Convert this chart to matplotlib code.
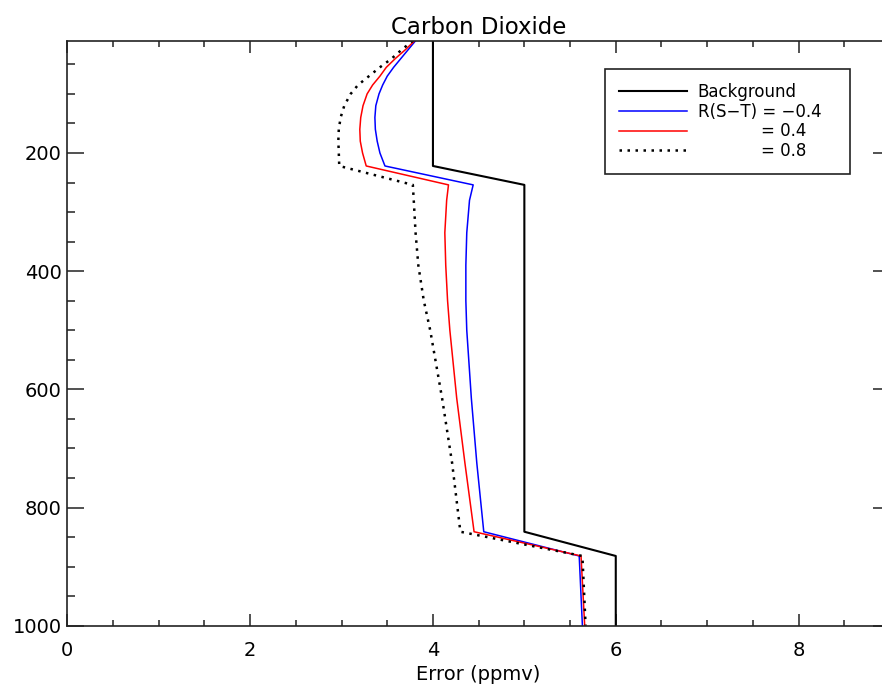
import matplotlib
matplotlib.use("Agg")
import matplotlib.pyplot as plt
from matplotlib.ticker import MultipleLocator, FixedLocator

# ---- data ----
bg_pressure = [10, 222, 254, 841, 882, 1000]
bg_error = [4.0, 4.0, 5.0, 5.0, 6.0, 6.0]

pressure = [10, 25, 40, 55, 70, 85, 100, 120, 140, 160, 180, 200, 222,
            254, 280, 335, 390, 450, 500, 615, 725, 841, 882, 1000]
err_m04 = [3.81, 3.73, 3.65, 3.57, 3.50, 3.45, 3.41, 3.375, 3.365, 3.37, 3.39, 3.42, 3.475,
           4.44, 4.40, 4.37, 4.36, 4.36, 4.37, 4.42, 4.48, 4.556, 5.60, 5.635]
err_p04 = [3.80, 3.70, 3.59, 3.49, 3.42, 3.34, 3.28, 3.235, 3.21, 3.20, 3.205, 3.23, 3.27,
           4.17, 4.15, 4.13, 4.14, 4.16, 4.185, 4.26, 4.35, 4.45, 5.62, 5.66]
err_p08 = [3.78, 3.66, 3.55, 3.42, 3.30, 3.18, 3.10, 3.03, 2.99, 2.97, 2.965, 2.97, 2.975,
           3.78, 3.79, 3.81, 3.84, 3.90, 3.97, 4.10, 4.21, 4.30, 5.635, 5.67]

labels = ["Background", "R(S\u2212T) = \u22120.4", "            = 0.4", "            = 0.8"]
title = "Carbon Dioxide"
xlabel = "Error (ppmv)"
xticks = [0, 2, 4, 6, 8]
yticks = [200, 400, 600, 800, 1000]

plt.rcParams['font.family'] = ['DejaVu Sans']

fig = plt.figure(figsize=(8.82, 6.90), dpi=100)
fig.patch.set_facecolor('white')
W, H = 882, 690
x0, x1 = 67.3, 890.0
y0, y1 = 40.7, 625.7
ax = fig.add_axes([x0 / W, 1 - y1 / H, (x1 - x0) / W, (y1 - y0) / H])

ax.plot(bg_error, bg_pressure, color='black', lw=1.5, label=labels[0])
ax.plot(err_m04, pressure, color='#0000ff', lw=1.1, label=labels[1])
ax.plot(err_p04, pressure, color='#ff0000', lw=1.1, label=labels[2])
ax.plot(err_p08, pressure, color='black', lw=1.8, linestyle=(0, (1, 2.2)), label=labels[3])

ax.set_xlim(0, 9)
ax.set_ylim(1000, 10)

ax.xaxis.set_major_locator(FixedLocator(xticks))
ax.xaxis.set_minor_locator(MultipleLocator(0.5))
ax.yaxis.set_major_locator(FixedLocator(yticks))
ax.yaxis.set_minor_locator(MultipleLocator(50))

ax.tick_params(axis='both', which='both', direction='in', top=True, right=True,
               color='#222222', width=1.1)
ax.tick_params(axis='x', which='major', length=8.3, pad=11, labelsize=14)
ax.tick_params(axis='x', which='minor', length=4)
ax.tick_params(axis='y', which='major', length=12.2, pad=4, labelsize=14)
ax.tick_params(axis='y', which='minor', length=5.8)

for s in ax.spines.values():
    s.set_color('#222222')
    s.set_linewidth(1.2)

ax.set_title(title, fontsize=16.5, pad=5)
ax.set_xlabel(xlabel, fontsize=14, labelpad=2)
ax.xaxis.set_label_coords((478.5 - x0) / (x1 - x0), -0.068)

lx = (605 - x0) / (x1 - x0)
lw_ = (850 - 605) / (x1 - x0)
ly = (y1 - 69) / (y1 - y0)
leg = ax.legend(loc='upper left', bbox_to_anchor=(lx, ly - 0.2, lw_, 0.2), mode='expand',
                fontsize=12, frameon=True, fancybox=False, framealpha=1,
                edgecolor='#222222', handlelength=4.07, handletextpad=0.66,
                labelspacing=0.1, borderpad=0.84, borderaxespad=0)
leg.get_frame().set_linewidth(1.2)

fig.savefig('out.png', dpi=100)
